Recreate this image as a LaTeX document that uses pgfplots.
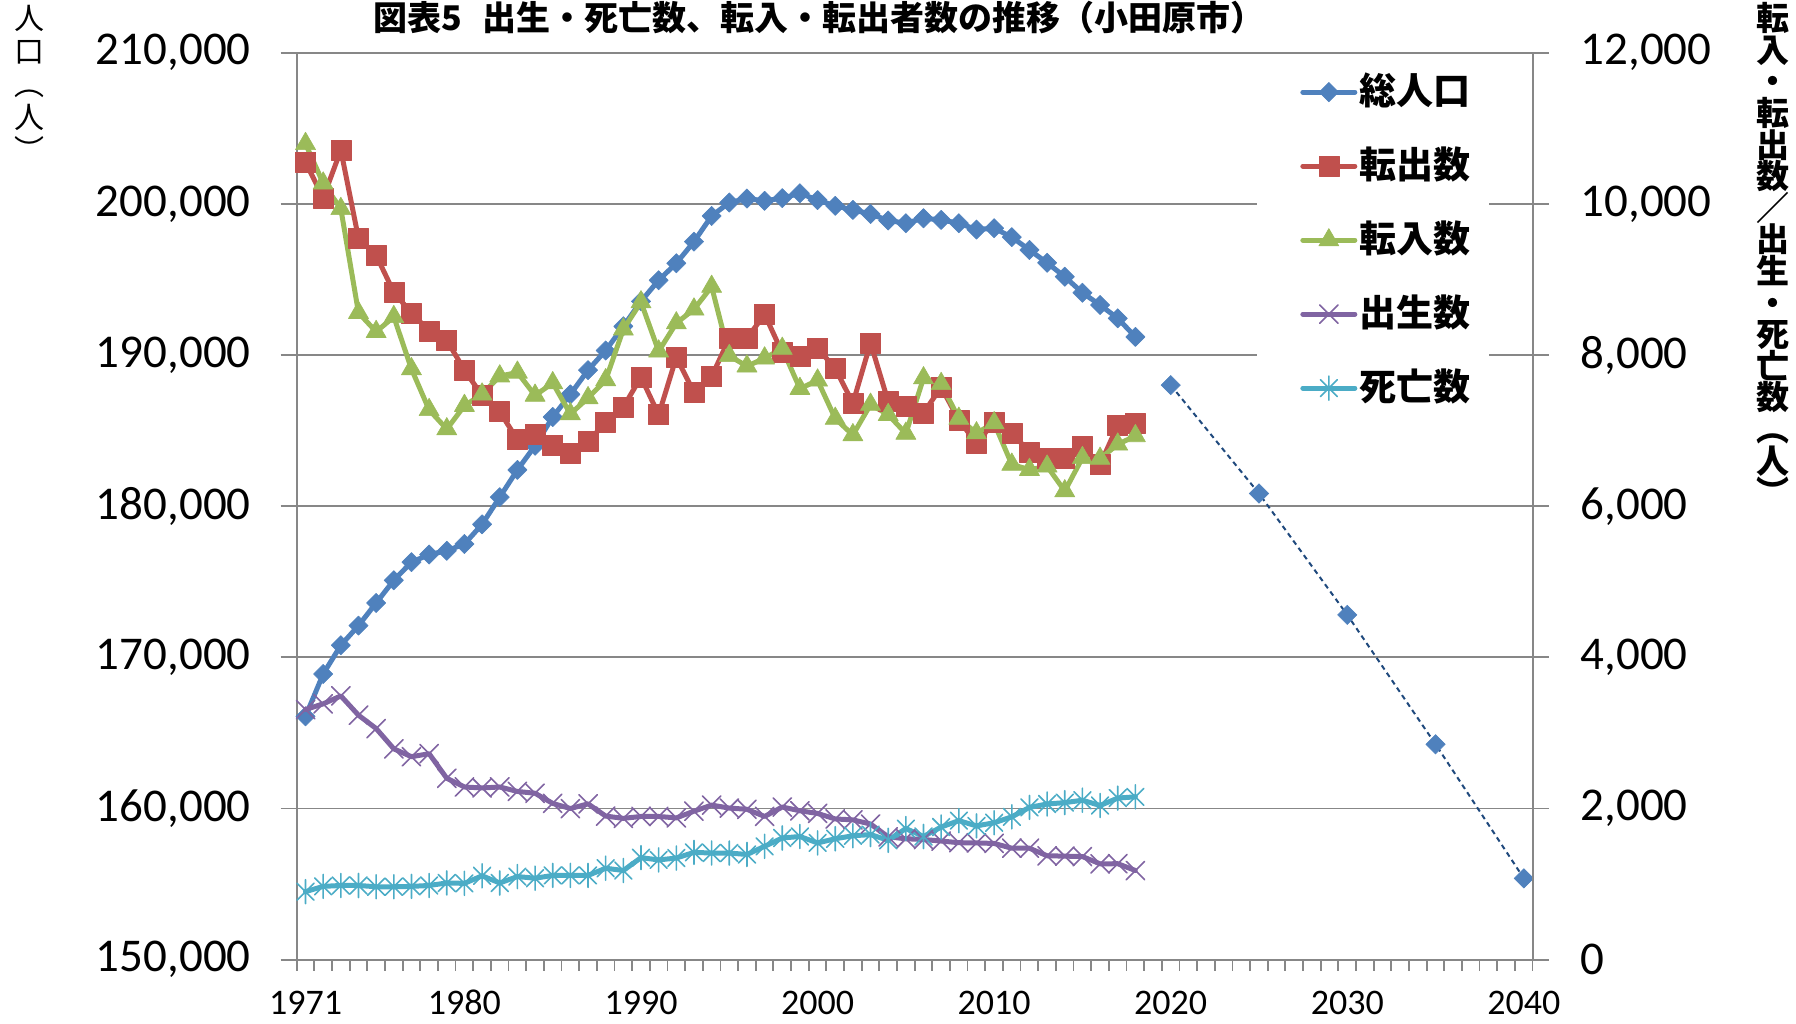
\documentclass[border=0pt]{standalone}
\usepackage{fontspec}
\setmainfont{Carlito}
\newfontfamily\cjk{Noto Sans CJK JP}
\usepackage{pgfplots}
\usepackage{pgfplotstable}
\pgfplotsset{compat=1.18}
\definecolor{cblue}{HTML}{4F81BD}
\definecolor{cred}{HTML}{C0504D}
\definecolor{cgreen}{HTML}{9BBB59}
\definecolor{cpurple}{HTML}{8064A2}
\definecolor{ccyan}{HTML}{4BACC6}
\definecolor{cnavy}{HTML}{1F497D}
\definecolor{gridgray}{HTML}{878787}
\pgfdeclareplotmark{xstar}{%
 \pgfpathmoveto{\pgfqpoint{0pt}{\pgfplotmarksize}}\pgfpathlineto{\pgfqpoint{0pt}{-\pgfplotmarksize}}%
 \pgfpathmoveto{\pgfqpoint{-.7071\pgfplotmarksize}{-.7071\pgfplotmarksize}}\pgfpathlineto{\pgfqpoint{.7071\pgfplotmarksize}{.7071\pgfplotmarksize}}%
 \pgfpathmoveto{\pgfqpoint{-.7071\pgfplotmarksize}{.7071\pgfplotmarksize}}\pgfpathlineto{\pgfqpoint{.7071\pgfplotmarksize}{-.7071\pgfplotmarksize}}%
 \pgfusepathqstroke}

\pgfplotstableread{
year pop
1971 166100
1972 168900
1973 170800
1974 172100
1975 173600
1976 175100
1977 176300
1978 176800
1979 177050
1980 177500
1981 178800
1982 180600
1983 182400
1984 184000
1985 185900
1986 187400
1987 189000
1988 190300
1989 191900
1990 193550
1991 194950
1992 196070
1993 197500
1994 199200
1995 200090
1996 200350
1997 200200
1998 200380
1999 200700
2000 200250
2001 199870
2002 199600
2003 199330
2004 198900
2005 198720
2006 199050
2007 198940
2008 198720
2009 198300
2010 198390
2011 197800
2012 196950
2013 196100
2014 195180
2015 194120
2016 193310
2017 192430
2018 191200
}\poptable

\pgfplotstableread{
year pop
2020 188010
2025 180840
2030 172810
2035 164250
2040 155380
}\projtable

\pgfplotstableread{
year out in birth death
1971 10550 10795 3310 900
1972 10080 10272 3385 970
1973 10710 9935 3490 982
1974 9545 8560 3235 982
1975 9320 8308 3058 965
1976 8830 8505 2790 965
1977 8555 7815 2686 970
1978 8320 7275 2725 982
1979 8195 7020 2400 1015
1980 7800 7330 2285 1010
1981 7465 7480 2272 1110
1982 7250 7720 2285 1015
1983 6880 7770 2226 1100
1984 6955 7465 2202 1078
1985 6808 7630 2068 1115
1986 6700 7220 2000 1115
1987 6852 7432 2062 1115
1988 7110 7670 1900 1210
1989 7312 8340 1870 1180
1990 7708 8700 1895 1350
1991 7210 8050 1895 1320
1992 7970 8422 1876 1345
1993 7505 8605 1965 1420
1994 7715 8905 2045 1411
1995 8220 7990 2006 1411
1996 8220 7852 1990 1392
1997 8540 7958 1895 1500
1998 8030 8085 2020 1610
1999 7982 7555 1970 1630
2000 8090 7665 1935 1545
2001 7822 7160 1862 1600
2002 7363 6942 1850 1640
2003 8160 7345 1795 1655
2004 7383 7210 1625 1580
2005 7318 6962 1600 1735
2006 7235 7695 1590 1630
2007 7575 7620 1570 1755
2008 7140 7160 1548 1840
2009 6834 6967 1545 1770
2010 7110 7100 1538 1812
2011 6970 6552 1475 1890
2012 6715 6483 1475 2015
2013 6640 6527 1375 2060
2014 6630 6200 1370 2078
2015 6789 6640 1365 2110
2016 6550 6630 1268 2040
2017 7070 6818 1270 2138
2018 7095 6930 1180 2155
}\flowtable

\pgfplotsset{
  common/.style={
    scale only axis, width=618pt, height=453.5pt,
    at={(0,0)}, anchor=south west,
    xmin=1970.5, xmax=2040.5,
    tick align=outside,
    major tick length=8pt, minor tick length=5.5pt,
    axis line style={gridgray, line width=0.9pt},
    tick style={gridgray, line width=0.9pt},
    scaled y ticks=false,
    yticklabel style={font=\fontsize{23.5}{23.5}\selectfont, /pgf/number format/fixed, /pgf/number format/1000 sep={,}, /pgf/number format/assume math mode=true},
  }
}

\begin{document}
\begin{tikzpicture}
\begin{axis}[common,
  ymin=150000, ymax=210000,
  ytick={150000,160000,...,210000},
  axis y line*=left, axis x line*=bottom,
  yticklabel style={xshift=-11.5pt},
  xtick={1971,1980,1990,2000,2010,2020,2030,2040},
  xticklabel style={anchor=base, yshift=-19.5pt, inner sep=0pt, font=\fontsize{18}{18}\selectfont, /pgf/number format/1000 sep={}, /pgf/number format/assume math mode=true},
  minor xtick={1970.5,1971.5,...,2040.5},
  major x tick style={draw=none},
  ymajorgrids, grid style={gridgray, line width=0.9pt},
]
\addplot[cblue, line width=2.5pt, line join=round, mark=square*, mark size=3.4pt,
  mark options={rotate=45, line width=0.3pt, fill=cblue, draw=cblue}]
  table[x=year, y=pop] {\poptable};
\addplot[cnavy, line width=1pt, dash pattern=on 2.5pt off 2pt, mark=square*, mark size=3.4pt,
  mark options={solid, rotate=45, line width=0.3pt, fill=cblue, draw=cblue}]
  table[x=year, y=pop] {\projtable};
\end{axis}
\begin{axis}[common,
  ymin=0, ymax=12000,
  ytick={0,2000,...,12000},
  axis y line*=right, axis x line=none,
  yticklabel style={xshift=12.5pt},
  legend cell align=left,
  legend style={at={(0.8117,0.979)}, anchor=north west, draw=none, fill=none,
    font=\cjk\bfseries\fontsize{18.5}{18.5}\selectfont, row sep=17pt, inner sep=0pt,
    nodes={inner sep=1pt, text height=15pt, text depth=3pt}},
  legend image code/.code={\draw[mark repeat=2, mark phase=2] plot coordinates {(0pt,0pt) (13pt,0pt) (26pt,0pt)};},
]
\fill[white] (rel axis cs:0.777,0.588) rectangle (rel axis cs:0.965,0.99);
\addlegendimage{cblue, line width=2.5pt, line cap=round, mark=square*, mark size=3.4pt,
  mark options={rotate=45, line width=0.3pt, fill=cblue, draw=cblue}}
\addlegendentry{総人口}
\addplot[cred, line width=2.5pt, line join=round, line cap=round, mark=square*, mark size=5pt,
  mark options={line width=0.3pt, fill=cred, draw=cred}]
  table[x=year, y=out] {\flowtable};
\addlegendentry{転出数}
\addplot[cgreen, line width=2.5pt, line join=round, line cap=round, mark=triangle*, mark size=5.8pt,
  mark options={line width=0.3pt, fill=cgreen, draw=cgreen}]
  table[x=year, y=in] {\flowtable};
\addlegendentry{転入数}
\addplot[cpurple, line width=2.5pt, line join=round, line cap=round, mark=x, mark size=6.5pt,
  mark options={line width=0.8pt}]
  table[x=year, y=birth] {\flowtable};
\addlegendentry{出生数}
\addplot[ccyan, line width=2.5pt, line join=round, line cap=round, mark=xstar, mark size=6pt,
  mark options={line width=0.8pt}]
  table[x=year, y=death] {\flowtable};
\addlegendentry{死亡数}
\end{axis}
\node[font=\cjk\bfseries\fontsize{17}{17}\selectfont] at (261pt,471pt)
  {図表5\hspace{0.6em}出生・死亡数、転入・転出者数の推移（小田原市）};
\node[font=\cjk\fontsize{15}{16.5}\selectfont, align=center, inner sep=0pt] at (-133.8pt,438pt)
  {人\\口\\︵\\人\\︶};
\node[font=\cjk\bfseries\fontsize{16.5}{15.8}\selectfont, align=center, inner sep=0pt] at (738.2pt,353pt)
  {転\\入\\・\\転\\出\\数\\／\\出\\生\\・\\死\\亡\\数\\︵\\人\\︶};
\pgfresetboundingbox
\path[use as bounding box] (-148.35pt,-32pt) rectangle (749.65pt,479.85pt);
\end{tikzpicture}
\end{document}
